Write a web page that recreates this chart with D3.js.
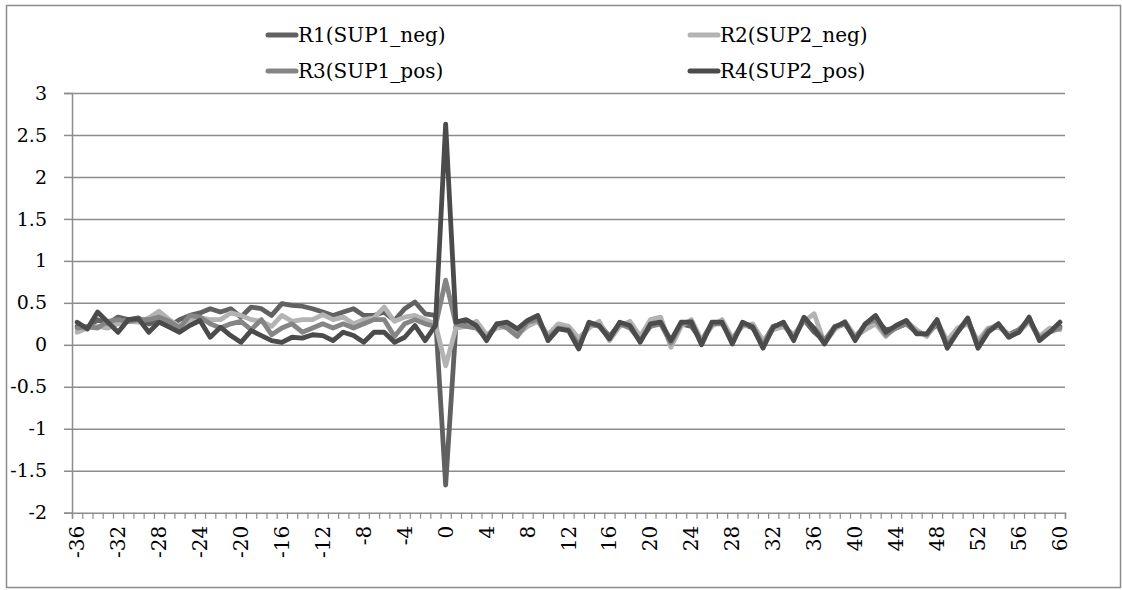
<!DOCTYPE html>
<html><head><meta charset="utf-8">
<script src="https://cdn.jsdelivr.net/npm/d3@7"></script>
<style>
html,body{margin:0;padding:0;background:#fff;}
svg{display:block;}
text{font-family:"DejaVu Serif","Liberation Serif",serif;fill:#000;}
</style></head>
<body>
<svg id="chart" width="1122" height="590"></svg>
<script>
const categories = d3.range(-36, 61);
const seriesNames = ["R1(SUP1_neg)", "R2(SUP2_neg)", "R3(SUP1_pos)", "R4(SUP2_pos)"];
const yTickValues = [-2, -1.5, -1, -0.5, 0, 0.5, 1, 1.5, 2, 2.5, 3];
const xLabelValues = d3.range(-36, 61, 4);

// x = -36 .. -1
const r1Left = [.22,.20,.30,.25,.33,.30,.32,.25,.28,.22,.30,.35,.38,.43,.39,.43,.33,.45,.43,.35,.49,.47,.46,.43,.39,.35,.39,.43,.35,.35,.39,.29,.43,.51,.37,.35];
const r2Left = [.15,.20,.22,.20,.25,.28,.27,.32,.40,.30,.22,.30,.32,.30,.30,.38,.35,.30,.28,.22,.35,.28,.30,.30,.36,.30,.33,.25,.30,.32,.45,.28,.33,.35,.30,.25];
const r3Left = [.20,.22,.20,.28,.30,.28,.30,.30,.33,.28,.20,.35,.33,.25,.20,.25,.28,.18,.30,.12,.20,.25,.15,.20,.25,.20,.25,.20,.25,.30,.30,.10,.25,.30,.25,.22];
const r4Left = [.27,.19,.39,.27,.15,.30,.31,.15,.27,.21,.15,.23,.29,.09,.21,.11,.03,.17,.11,.05,.03,.09,.08,.12,.11,.05,.15,.11,.03,.15,.15,.03,.09,.23,.05,.23];
// x = 0
const r1Zero = -1.67, r2Zero = -0.25, r3Zero = 0.77, r4Zero = 2.63;
// x = 1 .. 60
const r1Right = [.22,.25,.25,.10,.22,.25,.15,.25,.30,.10,.22,.20,.02,.22,.25,.10,.25,.25,.08,.22,.28,.02,.25,.22,.05,.25,.28,.05,.25,.20,.02,.22,.25,.08,.30,.15,.05,.20,.25,.10,.22,.30,.18,.20,.25,.15,.12,.25,0,.18,.28,.02,.18,.22,.12,.18,.28,.08,.18,.22];
const r2Right = [.20,.22,.28,.12,.20,.22,.12,.22,.28,.12,.25,.22,.08,.20,.28,.05,.22,.28,.10,.30,.33,-.03,.22,.30,.05,.22,.30,.08,.22,.25,.05,.18,.22,.12,.28,.37,.02,.18,.28,.10,.18,.25,.10,.22,.28,.18,.10,.28,.05,.20,.25,.05,.20,.22,.12,.15,.28,.10,.20,.18];
const r3Right = [.25,.22,.20,.08,.25,.20,.10,.27,.30,.08,.20,.18,0,.25,.22,.08,.25,.20,.05,.22,.25,.02,.25,.28,.02,.25,.25,.05,.25,.22,0,.22,.25,.08,.30,.20,.05,.22,.25,.08,.25,.30,.12,.20,.25,.15,.12,.28,0,.15,.30,0,.18,.25,.10,.18,.30,.08,.15,.20];
const r4Right = [.27,.30,.23,.05,.25,.27,.19,.29,.35,.05,.19,.17,-.05,.27,.23,.07,.27,.23,.03,.25,.27,.05,.27,.27,0,.27,.27,.01,.27,.21,-.04,.21,.27,.05,.33,.19,.01,.21,.27,.05,.25,.35,.15,.23,.29,.13,.13,.30,-.04,.15,.32,-.04,.15,.25,.09,.15,.33,.05,.15,.27];

const seriesValues = [
  r1Left.concat([r1Zero], r1Right),
  r2Left.concat([r2Zero], r2Right),
  r3Left.concat([r3Zero], r3Right),
  r4Left.concat([r4Zero], r4Right)
];
const colors = ["#616161", "#b3b3b3", "#858585", "#4b4b4b"];

const svg = d3.select("#chart");
const L = 72, R = 1065, T = 93, B = 512.7;

const x = d3.scaleBand().domain(categories).range([L, R]).padding(0);
const xEdge = d3.scaleLinear().domain([0, categories.length]).range([L, R]);
const y = d3.scaleLinear().domain([-2, 3]).range([B, T]);

// gridlines
const grid = d3.axisLeft(y).tickValues(yTickValues.filter(v => v !== -2)).tickSize(-(R - L)).tickFormat("");
const gg = svg.append("g").attr("transform", `translate(${L},0)`).call(grid);
gg.select(".domain").remove();
gg.selectAll(".tick line").attr("stroke", "#8c8c8c").attr("stroke-width", 1.5);

// outer border
svg.append("rect").attr("x", 6.5).attr("y", 5.5).attr("width", 1114).attr("height", 582)
  .attr("fill", "none").attr("stroke", "#8c8c8c").attr("stroke-width", 1.5);

// y axis
const yAxis = d3.axisLeft(y).tickValues(yTickValues).tickSize(8).tickPadding(17)
  .tickFormat(d => String(d));
const gy = svg.append("g").attr("transform", `translate(${L},0)`).call(yAxis);
gy.select(".domain").attr("stroke", "#8c8c8c").attr("stroke-width", 1.5);
gy.selectAll(".tick line").attr("stroke", "#8c8c8c").attr("stroke-width", 1.5);
gy.selectAll(".tick text").attr("font-size", 19).attr("font-family", "DejaVu Serif, serif");

// x axis ticks at category boundaries
const xTicks = d3.axisBottom(xEdge).tickValues(d3.range(0, categories.length + 1)).tickSize(6).tickFormat("");
const gxt = svg.append("g").attr("transform", `translate(0,${B})`).call(xTicks);
gxt.select(".domain").attr("stroke", "#8c8c8c").attr("stroke-width", 1.5);
gxt.selectAll(".tick line").attr("stroke", "#8c8c8c").attr("stroke-width", 1.2);

// x labels
const xLab = d3.axisBottom(x).tickValues(xLabelValues).tickSize(0).tickFormat(d => String(d));
const gxl = svg.append("g").attr("transform", `translate(0,${B})`).call(xLab);
gxl.select(".domain").remove();
gxl.selectAll(".tick text")
  .attr("font-size", 20).attr("font-family", "DejaVu Serif, serif")
  .attr("transform", "rotate(-90)")
  .attr("text-anchor", "end")
  .attr("x", -13).attr("y", 0).attr("dy", "0.35em");

// lines
const line = d3.line().x((d, i) => x(categories[i]) + x.bandwidth() / 2).y(d => y(d));
seriesValues.forEach((vals, k) => {
  svg.append("path").datum(vals).attr("d", line)
    .attr("fill", "none").attr("stroke", colors[k]).attr("stroke-width", 4.8)
    .attr("stroke-linejoin", "round").attr("stroke-linecap", "round");
});

// legend
const legendPos = [[268, 35], [690, 35], [268, 71], [690, 71]];
seriesNames.forEach((name, k) => {
  const [lx, ly] = legendPos[k];
  const g = svg.append("g").attr("transform", `translate(${lx},${ly})`);
  g.append("line").attr("x1", 0).attr("x2", 28).attr("y1", 0).attr("y2", 0)
    .attr("stroke", colors[k]).attr("stroke-width", 5).attr("stroke-linecap", "round");
  g.append("text").attr("x", 30).attr("y", 0).attr("dy", "0.35em")
    .attr("font-size", 20).text(name);
});
</script>
</body></html>
